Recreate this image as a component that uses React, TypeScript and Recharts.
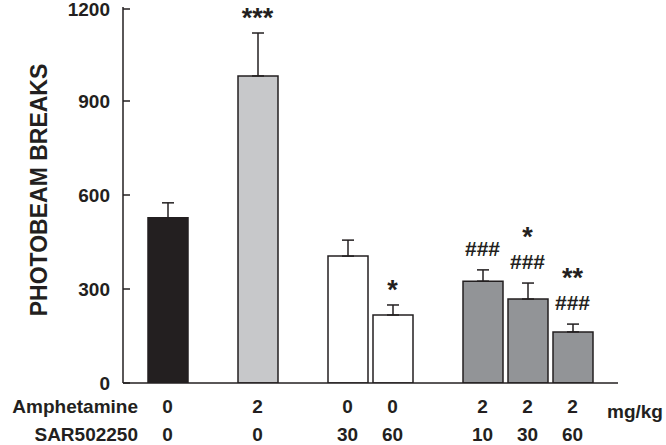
import React from 'react';
import { ComposedChart, Bar, XAxis, YAxis, ErrorBar, Cell, Line, LabelList } from 'recharts';

const groups = ['veh', 'gap1', 'amph', 'gap2', 'sar30', 'sar60', 'gap3', 'amphSar10', 'amphSar30', 'amphSar60'];
const amphetamineDose = ['0', '', '2', '', '0', '0', '', '2', '2', '2'];
const sarDose = ['0', '', '0', '', '30', '60', '', '10', '30', '60'];
const meanBreaks = [527, null, 980, null, 405, 217, null, 325, 268, 163];
const semBreaks = [48, null, 137, null, 51, 32, null, 36, 51, 25];
const starMarks = ['', '', '***', '', '', '*', '', '', '*', '**'];
const hashMarks = ['', '', '', '', '', '', '', '###', '###', '###'];
const yTicks = [0, 300, 600, 900, 1200];

const barFills = ['#231f20', 'none', '#c7c8ca', 'none', '#ffffff', '#ffffff', 'none', '#929497', '#929497', '#929497'];
const INK = '#231f20';
const FONT = '"Liberation Sans", Arial, Helvetica, sans-serif';

const data = groups.map((g, i) => ({
  group: g,
  mean: meanBreaks[i],
  err: semBreaks[i] == null ? null : [0, semBreaks[i] as number],
  top: meanBreaks[i] == null ? null : (meanBreaks[i] as number) + (semBreaks[i] as number),
}));

const YTick = (props: any) => {
  const { x, y, payload } = props;
  return (
    <g>
      <line x1={x + 13} x2={x + 20} y1={y} y2={y} stroke={INK} strokeWidth={1.5} />
      <text x={x} y={y + 7} textAnchor="end" fontFamily={FONT} fontWeight="bold" fontSize={19} fill={INK}>
        {payload.value}
      </text>
    </g>
  );
};

const XTick = (props: any) => {
  const { x, y, index } = props;
  return (
    <g>
      <text x={x} y={y + 30} textAnchor="middle" fontFamily={FONT} fontWeight="bold" fontSize={19} fill={INK}>
        {amphetamineDose[index]}
      </text>
      <text x={x} y={y + 58} textAnchor="middle" fontFamily={FONT} fontWeight="bold" fontSize={19} fill={INK}>
        {sarDose[index]}
      </text>
    </g>
  );
};

const SigLabel = (props: any) => {
  const { x, y, value, index } = props;
  if (value == null || x == null || y == null) return null;
  const stars = starMarks[index];
  const hashes = hashMarks[index];
  return (
    <g>
      {hashes ? (
        <text x={x} y={y - 14} textAnchor="middle" fontFamily={FONT} fontWeight="bold" fontSize={21} fill={INK}>
          {hashes}
        </text>
      ) : null}
      {stars ? (
        <text x={x} y={hashes ? y - 37 : y - 6} textAnchor="middle" fontFamily={FONT} fontWeight="bold" fontSize={27} fill={INK}>
          {stars}
        </text>
      ) : null}
    </g>
  );
};

export default function App() {
  return (
    <div style={{ position: 'absolute', left: 0, top: 0, width: 666, height: 445, background: '#fff' }}>
      <ComposedChart
        width={666}
        height={445}
        data={data}
        margin={{ top: 7, right: 48, bottom: 0, left: 0 }}
      >
        <XAxis
          dataKey="group"
          type="category"
          height={62}
          padding={{ left: 22, right: 23 }}
          axisLine={{ stroke: INK, strokeWidth: 1.5 }}
          tickLine={false}
          tickSize={0}
          tickMargin={0}
          interval={0}
          tick={<XTick />}
        />
        <YAxis
          width={123}
          domain={[0, 1200]}
          ticks={yTicks}
          allowDataOverflow
          axisLine={{ stroke: INK, strokeWidth: 1.5 }}
          tickLine={false}
          tickSize={0}
          tickMargin={13}
          tick={<YTick />}
        />
        <Bar dataKey="mean" barSize={40} stroke={INK} strokeWidth={1.5} isAnimationActive={false}>
          {data.map((d, i) => (
            <Cell key={d.group} fill={barFills[i]} />
          ))}
          <ErrorBar dataKey="err" width={6} stroke={INK} strokeWidth={1.5} direction="y" isAnimationActive={false} />
        </Bar>
        <Line dataKey="top" stroke="none" dot={false} activeDot={false} isAnimationActive={false} connectNulls={false}>
          <LabelList dataKey="top" content={<SigLabel />} />
        </Line>
      </ComposedChart>
      <svg width={666} height={445} style={{ position: 'absolute', left: 0, top: 0, pointerEvents: 'none' }}>
        <text
          transform="translate(38.5,190) rotate(-90)"
          textAnchor="middle"
          dominantBaseline="central"
          fontFamily={FONT}
          fontWeight="bold"
          fontSize={23}
          fill={INK}
        >
          PHOTOBEAM BREAKS
        </text>
        <text x={138} y={413} textAnchor="end" fontFamily={FONT} fontWeight="bold" fontSize={19} fill={INK}>
          Amphetamine
        </text>
        <text x={138} y={441} textAnchor="end" fontFamily={FONT} fontWeight="bold" fontSize={19} fill={INK}>
          SAR502250
        </text>
        <text x={607} y={418} fontFamily={FONT} fontWeight="bold" fontSize={19} fill={INK}>
          mg/kg
        </text>
      </svg>
    </div>
  );
}
